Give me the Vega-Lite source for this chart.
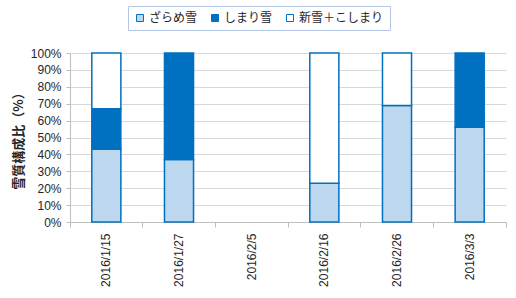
{
  "$schema": "https://vega.github.io/schema/vega-lite/v6.json",
  "width": 436,
  "height": 169,
  "autosize": {"type": "none"},
  "padding": {"left": 70, "top": 53, "right": 10, "bottom": 76},
  "background": "white",
  "config": {
    "view": {"stroke": null},
    "font": "Liberation Sans"
  },
  "data": {
    "values": [
      {"date": "2016/1/15", "type": "ざらめ雪", "k": 0, "v": 43},
      {"date": "2016/1/15", "type": "しまり雪", "k": 1, "v": 24},
      {"date": "2016/1/15", "type": "新雪＋こしまり", "k": 2, "v": 33},
      {"date": "2016/1/27", "type": "ざらめ雪", "k": 0, "v": 37},
      {"date": "2016/1/27", "type": "しまり雪", "k": 1, "v": 63},
      {"date": "2016/1/27", "type": "新雪＋こしまり", "k": 2, "v": 0},
      {"date": "2016/2/16", "type": "ざらめ雪", "k": 0, "v": 23},
      {"date": "2016/2/16", "type": "しまり雪", "k": 1, "v": 0},
      {"date": "2016/2/16", "type": "新雪＋こしまり", "k": 2, "v": 77},
      {"date": "2016/2/26", "type": "ざらめ雪", "k": 0, "v": 69},
      {"date": "2016/2/26", "type": "しまり雪", "k": 1, "v": 0},
      {"date": "2016/2/26", "type": "新雪＋こしまり", "k": 2, "v": 31},
      {"date": "2016/3/3", "type": "ざらめ雪", "k": 0, "v": 56},
      {"date": "2016/3/3", "type": "しまり雪", "k": 1, "v": 44},
      {"date": "2016/3/3", "type": "新雪＋こしまり", "k": 2, "v": 0}
    ]
  },
  "transform": [{"filter": "datum.v > 0"}],
  "mark": {"type": "bar", "width": {"band": 0.4}, "stroke": "#0070c0", "strokeWidth": 1.5},
  "encoding": {
    "x": {
      "field": "date",
      "type": "nominal",
      "sort": null,
      "scale": {
        "domain": ["2016/1/15", "2016/1/27", "2016/2/5", "2016/2/16", "2016/2/26", "2016/3/3"],
        "paddingInner": 0,
        "paddingOuter": 0
      },
      "axis": {
        "title": null,
        "labelAngle": 270,
        "labelAlign": "right",
        "labelBaseline": "middle",
        "labelFontSize": 12,
        "labelColor": "#262626",
        "labelPadding": 6,
        "bandPosition": 1,
        "tickExtra": true,
        "tickSize": 5,
        "tickColor": "#bfbfbf",
        "domainColor": "#bfbfbf",
        "grid": false
      }
    },
    "y": {
      "field": "v",
      "type": "quantitative",
      "stack": "zero",
      "scale": {"domain": [0, 100], "nice": false},
      "axis": {
        "title": "雪質構成比（%）",
        "titleFont": "Noto Sans CJK JP",
        "titleFontSize": 13,
        "titleFontWeight": "bold",
        "titleColor": "#262626",
        "titlePadding": 5,
        "values": [0, 10, 20, 30, 40, 50, 60, 70, 80, 90, 100],
        "labelExpr": "datum.value + '%'",
        "labelFontSize": 12,
        "labelColor": "#262626",
        "labelPadding": 5,
        "tickSize": 4,
        "tickColor": "#bfbfbf",
        "domainColor": "#bfbfbf",
        "gridColor": "#d9d9d9",
        "gridWidth": 1
      }
    },
    "color": {
      "field": "type",
      "type": "nominal",
      "scale": {
        "domain": ["ざらめ雪", "しまり雪", "新雪＋こしまり"],
        "range": ["#bdd7ee", "#0070c0", "#ffffff"]
      },
      "legend": {
        "title": null,
        "orient": "none",
        "direction": "horizontal",
        "legendX": 58,
        "legendY": -47,
        "symbolType": "square",
        "symbolSize": 49,
        "symbolStrokeColor": "#0070c0",
        "symbolStrokeWidth": 1,
        "labelFont": "Noto Sans CJK JP",
        "labelFontSize": 12,
        "labelColor": "#262626",
        "labelOffset": 3,
        "columnPadding": 11,
        "padding": 6,
        "strokeColor": "#b4c7e7",
        "fillColor": "white"
      }
    },
    "order": {"field": "k", "type": "quantitative"}
  }
}
